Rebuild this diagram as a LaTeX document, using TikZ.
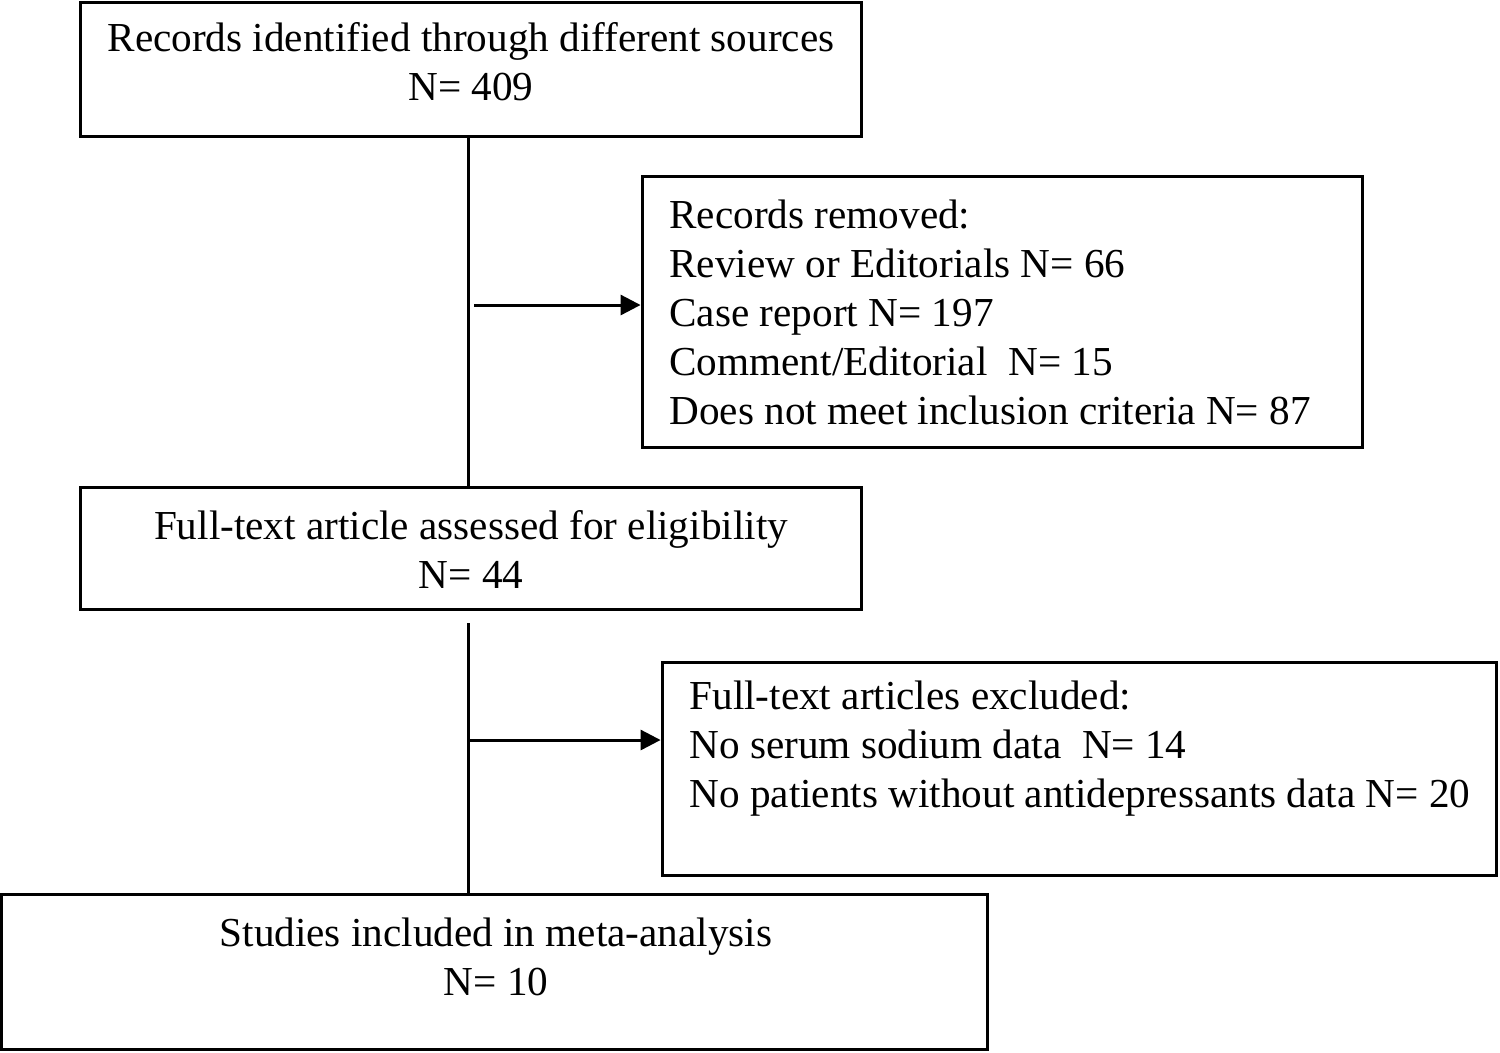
\documentclass[tikz,border=0pt]{standalone}
\usepackage{fontspec}
\setmainfont{Liberation Serif}
\usetikzlibrary{arrows.meta}
\usetikzlibrary{positioning}

\begin{document}
\begin{tikzpicture}[x=0.02cm, y=-0.02cm, line width=0.06cm,
    box/.style={draw, rectangle, inner sep=0pt},
    txt/.style={inner sep=0pt, font=\fontsize{23.45}{27.9}\selectfont},
    arr/.style={-{Triangle[length=0.4cm, width=0.4cm]}}]
    \useasboundingbox (0,0) rectangle (1500,1052);

    \node[box, minimum width=15.64cm, minimum height=2.7cm] (records) at (471,69.5) {};
    \node[box, minimum width=14.42cm, minimum height=5.44cm] (removed) at (1002.5,312) {};
    \node[box, minimum width=15.64cm, minimum height=2.44cm] (fulltext) at (471,548) {};
    \node[box, minimum width=16.7cm, minimum height=4.28cm] (excluded) at (1079.5,769) {};
    \node[box, minimum width=19.73cm, minimum height=3.1cm] (included) at (494.75,971.5) {};

    \node[txt, align=center] (recordstxt) at (471,62) {Records identified through different sources\\N= 409};
    \node[txt, align=left, anchor=west] (removedtxt) at (668,312) {Records removed:\\Review or Editorials N= 66\\Case report N= 197\\Comment/Editorial~~N= 15\\Does not meet inclusion criteria N= 87};
    \node[txt, align=center] (fulltexttxt) at (471,549) {Full-text article assessed for eligibility\\N= 44};
    \node[txt, align=left, anchor=west] (excludedtxt) at (688,749) {Full-text articles excluded:\\No serum sodium data~~N= 14\\No patients without antidepressants data N= 20};
    \node[txt, align=center] (includedtxt) at (496,957) {Studies included in meta-analysis\\N= 10};

    \coordinate (trunk) at (468,0);
    \coordinate (fork1) at (474,305);
    \coordinate (trunk2) at (468,623);
    \coordinate (fork2) at (468,740);

    \draw (records.south -| trunk) -- (fulltext.north -| trunk);
    \draw[arr] (fork1) -- (fork1 -| removed.west);
    \draw (trunk2) -- (included.north -| trunk2);
    \draw[arr] (fork2) -- (fork2 -| excluded.west);
\end{tikzpicture}
\end{document}
